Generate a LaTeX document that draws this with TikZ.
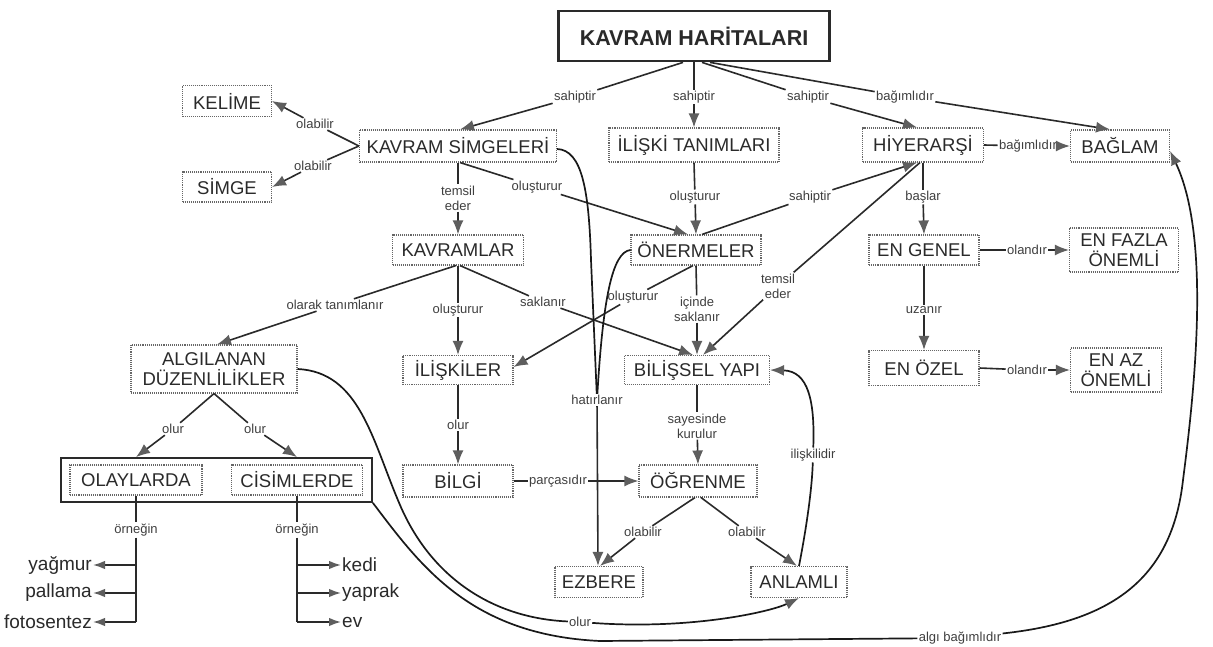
\documentclass[tikz,border=0pt]{standalone}
\usepackage{fontspec}
\setmainfont{Liberation Sans}
\usetikzlibrary{arrows.meta}

\definecolor{ink}{HTML}{2A2A2A}
\definecolor{tipgray}{HTML}{5E5E5E}
\definecolor{dotgray}{HTML}{666666}

\tikzset{
  concept/.style={draw=dotgray, densely dotted, line width=1.1pt, align=center,
    inner sep=0pt, text=ink, font=\fontsize{18.5}{20}\selectfont},
  wh/.style 2 args={minimum width=#1pt, minimum height=#2pt},
  link/.style={fill=white, inner sep=1.2pt, align=center, text=ink!90,
    font=\fontsize{13}{15}\selectfont},
  ln/.style={draw=ink, line width=1.6pt},
  arr/.style={ln, -{Latex[length=14pt,width=11pt,color=tipgray]}},
  leafarr/.style={ln, -{Latex[length=12pt,width=8.5pt,color=tipgray]}},
  curve/.style={draw=black!90, line width=1.7pt},
  curvearr/.style={curve, -{Latex[length=14pt,width=11pt,color=tipgray]}},
  leaf/.style={inner sep=1pt, text=ink, font=\fontsize{19}{20}\selectfont},
}

\begin{document}
\begin{tikzpicture}[x=1pt, y=-1pt]
\fill[white] (0,0) rectangle (1213,647);
\useasboundingbox (0,0) rectangle (1213,647);

% ---------- concepts ----------
\node[draw=ink, line width=2.8pt, wh={271}{50}, inner sep=0pt, text=ink,
      font=\bfseries\fontsize{21.5}{22}\selectfont] (kh) at (694,36) {KAVRAM HARİTALARI};

\node[concept, wh={89}{31}]  (kel) at (227,101) {KELİME};
\node[concept, wh={89}{30}]  (sim) at (227,187) {SİMGE};
\node[concept, wh={197}{32}] (ks)  at (458,146) {KAVRAM SİMGELERİ};
\node[concept, wh={170}{34}] (it)  at (694,145) {İLİŞKİ TANIMLARI};
\node[concept, wh={121}{34}] (hy)  at (923,145) {HİYERARŞİ};
\node[concept, wh={99}{32}]  (bg)  at (1120,146) {BAĞLAM};

\node[concept, wh={131}{30}] (kv)  at (458,250) {KAVRAMLAR};
\node[concept, wh={130}{30}] (on)  at (696,250) {ÖNERMELER};
\node[concept, wh={110}{30}] (eg)  at (924,250) {EN GENEL};
\node[concept, wh={109}{44}] (ef)  at (1124,250) {EN FAZLA\\ÖNEMLİ};

\node[concept, wh={166}{48}] (ad)  at (214,369) {ALGILANAN\\DÜZENLİLİKLER};
\node[concept, wh={110}{29}] (il)  at (458,370) {İLİŞKİLER};
\node[concept, wh={145}{29}] (by)  at (697,370) {BİLİŞSEL YAPI};
\node[concept, wh={110}{35}] (eo)  at (924,368) {EN ÖZEL};
\node[concept, wh={91}{44}]  (ea)  at (1116,370) {EN AZ\\ÖNEMLİ};

\node[draw=ink, line width=1.8pt, wh={311}{44}, inner sep=0pt] (grp) at (216.5,480) {};
\node[concept, wh={132}{30}] (ol)  at (136,480) {OLAYLARDA};
\node[concept, wh={131}{30}] (ci)  at (297,480) {CİSİMLERDE};

\node[concept, wh={110}{32}] (bi)  at (458,481) {BİLGİ};
\node[concept, wh={118}{32}] (og)  at (698,481) {ÖĞRENME};
\node[concept, wh={88}{31}]  (ez)  at (599,582) {EZBERE};
\node[concept, wh={96}{31}]  (an)  at (799,582) {ANLAMLI};

% ---------- examples ----------
\node[leaf, anchor=east] (y1) at (93,565) {yağmur};
\node[leaf, anchor=east] (y2) at (93,593) {pallama};
\node[leaf, anchor=east] (y3) at (93,622) {fotosentez};
\node[leaf, anchor=west] (k1) at (341,565) {kedi};
\node[leaf, anchor=west] (k2) at (341,593) {yaprak};
\node[leaf, anchor=west] (k3) at (341,622) {ev};
\coordinate (ta1) at (136,565);
\coordinate (ta2) at (136,593);
\coordinate (ta3) at (136,622);
\coordinate (tb1) at (297,565);
\coordinate (tb2) at (297,593);
\coordinate (tb3) at (297,622);

% ---------- linking phrases ----------
\node[link] (l1)  at (575,97)  {sahiptir};
\node[link] (l2)  at (694,97)  {sahiptir};
\node[link] (l3)  at (808,97)  {sahiptir};
\node[link] (l4)  at (905,97)  {bağımlıdır};
\node[link] (l5)  at (315,124) {olabilir};
\node[link] (l6)  at (313,166) {olabilir};
\node[link] (l7)  at (458,198) {temsil\\eder};
\node[link] (l8)  at (537,187) {oluşturur};
\node[link] (l9)  at (695,197) {oluşturur};
\node[link] (l10) at (810,197) {sahiptir};
\node[link] (l11) at (1028,146) {bağımlıdır};
\node[link] (l12) at (923,197) {başlar};
\node[link] (l13) at (335,305) {olarak tanımlanır};
\node[link] (l14) at (458,310) {oluşturur};
\node[link] (l15) at (543,302) {saklanır};
\node[link] (l16) at (633,297) {oluşturur};
\node[link] (l17) at (697,309) {içinde\\saklanır};
\node[link] (l18) at (778,286) {temsil\\eder};
\node[link] (l19) at (924,310) {uzanır};
\node[link] (l20) at (1027,250) {olandır};
\node[link] (l21) at (1027,370) {olandır};
\node[link] (l22) at (597,400) {hatırlanır};
\node[link] (l23) at (697,426) {sayesinde\\kurulur};
\node[link] (l24) at (458,425) {olur};
\node[link] (l25) at (558,481) {parçasıdır};
\node[link] (l26) at (643,532) {olabilir};
\node[link] (l27) at (747,532) {olabilir};
\node[link] (l28) at (813,455) {ilişkilidir};
\node[link] (l29) at (173,429) {olur};
\node[link] (l30) at (255,429) {olur};
\node[link] (l31) at (136,530) {örneğin};
\node[link] (l32) at (297,530) {örneğin};
\node[link] (l33) at (580,622) {olur};
\node[link] (l34) at (960,638) {algı bağımlıdır};

% ---------- straight connectors ----------
\draw[ln]  ([xshift=-11pt]kh.south) -- (l1);  \draw[arr] (l1) -- ([xshift=2pt]ks.north);
\draw[ln]  (kh.south) -- (l2);                \draw[arr] (l2) -- (it.north);
\draw[ln]  ([xshift=8pt]kh.south) -- (l3);    \draw[arr] (l3) -- ([xshift=-6pt]hy.north);
\draw[ln]  ([xshift=16pt]kh.south) -- (l4);   \draw[arr] (l4) -- ([xshift=-10pt]bg.north);

\draw[ln]  (ks.west) -- (l5);  \draw[arr] (l5) -- (kel.east);
\draw[ln]  (ks.west) -- (l6);  \draw[arr] (l6) -- (sim.east);
\draw[ln]  (ks.south) -- (l7); \draw[arr] (l7) -- (kv.north);
\draw[ln]  ([xshift=2pt]ks.south) -- (l8); \draw[arr] (l8) -- ([xshift=-8pt]on.north);

\draw[ln]  (it.south) -- (l9); \draw[arr] (l9) -- (on.north);
\draw[ln]  ([xshift=6pt]on.north) -- (l10); \draw[arr] (l10) -- ([xshift=-6pt]hy.south);
\draw[ln]  (hy.east) -- (l11); \draw[arr] (l11) -- (bg.west);
\draw[ln]  (hy.south) -- (l12); \draw[arr] (l12) -- (eg.north);
\draw[ln]  ([xshift=-3pt]hy.south) -- (l18); \draw[arr] (l18) -- ([xshift=6pt]by.north);

\draw[ln]  ([xshift=-2pt]kv.south) -- (l13); \draw[arr] (l13) -- ([xshift=3pt]ad.north);
\draw[ln]  (kv.south) -- (l14); \draw[arr] (l14) -- (il.north);
\draw[ln]  ([xshift=2pt]kv.south) -- (l15); \draw[arr] (l15) -- ([xshift=-4pt]by.north);
\draw[ln]  ([xshift=-3pt]on.south) -- (l16); \draw[arr] (l16) -- ([yshift=3pt]il.east);
\draw[ln]  (on.south) -- (l17); \draw[arr] (l17) -- (by.north);

\draw[ln]  (eg.south) -- (l19); \draw[arr] (l19) -- (eo.north);
\draw[ln]  (eg.east) -- (l20);  \draw[arr] (l20) -- (ef.west);
\draw[ln]  (eo.east) -- (l21);  \draw[arr] (l21) -- (ea.west);

\draw[ln]  (by.south) -- (l23); \draw[arr] (l23) -- (og.north);
\draw[ln]  (il.south) -- (l24); \draw[arr] (l24) -- (bi.north);
\draw[ln]  (bi.east) -- (l25);  \draw[arr] (l25) -- (og.west);
\draw[ln]  ([xshift=-3pt]og.south) -- (l26); \draw[arr] (l26) -- ([xshift=1pt]ez.north);
\draw[ln]  ([xshift=3pt]og.south) -- (l27);  \draw[arr] (l27) -- ([xshift=-2pt]an.north);

\draw[ln]  (ad.south) -- (l29); \draw[arr] (l29) -- (grp.north -| ol);
\draw[ln]  (ad.south) -- (l30); \draw[arr] (l30) -- (grp.north -| ci);

% example branches
\draw[ln] (ol.south) -- (l31); \draw[ln] (l31) -- (ta3);
\draw[leafarr] (ta1) -- (y1);
\draw[leafarr] (ta2) -- (y2);
\draw[leafarr] (ta3) -- (y3);
\draw[ln] (ci.south) -- (l32); \draw[ln] (l32) -- (tb3);
\draw[leafarr] (tb1) -- (k1);
\draw[leafarr] (tb2) -- (k2);
\draw[leafarr] (tb3) -- (k3);

% ---------- curved connectors ----------
% recall path into EZBERE
\draw[curve] ([yshift=-3pt]ks.east) .. controls (582,150) and (589,190) .. (591,260) -- (l22);
\draw[curve] (on.west) .. controls (612,252) and (603,300) .. (l22);
\draw[arr] (l22) -- ([xshift=-1pt]ez.north);

% meaningful learning back to cognitive structure
\draw[curve] (an.north) .. controls (806,530) and (812,490) .. (l28);
\draw[curvearr] (l28) .. controls (815,400) and (808,371) .. (by.east);

% perceived regularities to meaningful learning
\draw[curve] (ad.east) .. controls (360,372) and (372,440) .. (400,505)
  .. controls (430,575) and (490,618) .. (l33);
\draw[curvearr] (l33) .. controls (690,630) and (770,612) .. (an.south);

% events / objects to context
\draw[curve] (grp.south east) .. controls (420,565) and (470,635) .. (600,641) -- (l34);
\draw[curvearr] (l34) .. controls (1110,622) and (1172,580) .. (1183,480)
  .. controls (1196,380) and (1210,235) .. ([yshift=-5pt]bg.east);
\end{tikzpicture}
\end{document}
